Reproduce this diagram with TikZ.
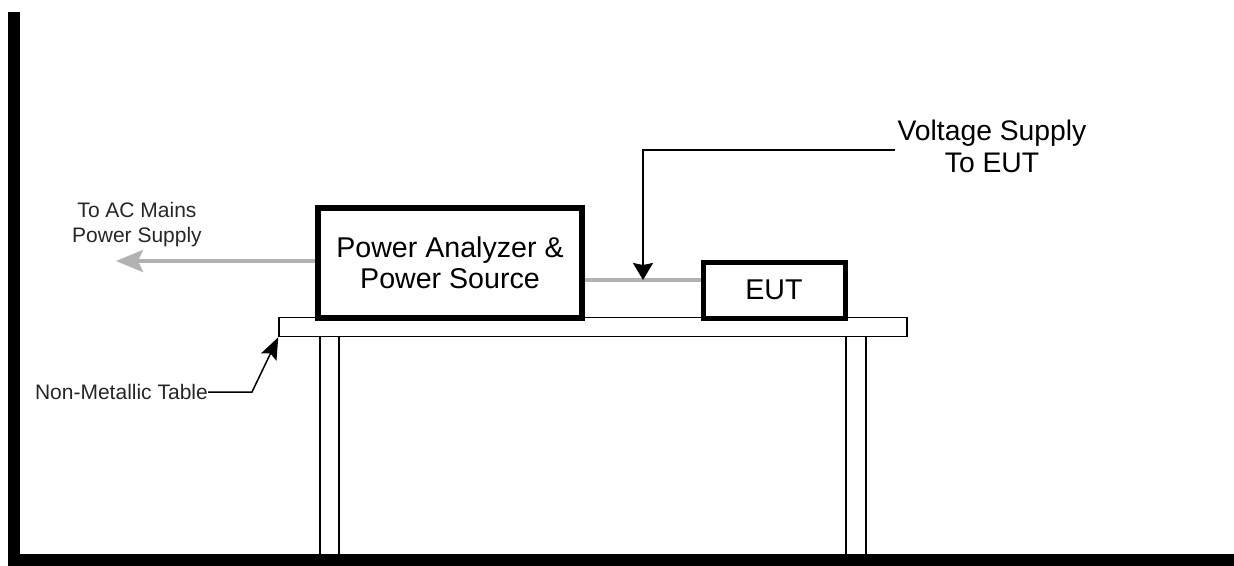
\documentclass[tikz,border=0pt]{standalone}
\usepackage{fontspec}
\setmainfont{Liberation Sans}
\usetikzlibrary{arrows.meta,positioning}
\tikzstyle{unit}=[
	rectangle,
	draw,
	line width=6pt,
	align=center,
	inner sep=0pt,
	font=\fontsize{28.6}{31}\selectfont
]
\tikzstyle{board}=[
	rectangle,
	draw,
	line width=1.5pt,
	inner sep=0pt
]
\tikzstyle{caption}=[
	align=center,
	inner sep=2pt,
	font=\fontsize{28.3}{32}\selectfont
]
\tikzstyle{note}=[
	align=center,
	inner sep=0pt,
	text=black!85,
	font=\fontsize{21}{25}\selectfont
]
\tikzstyle{cable}=[
	line width=4pt,
	draw=black!30
]
\tikzstyle{mainsfeed}=[
	line width=4pt,
	draw=black!30,
	-{Stealth[length=27pt,width=22pt,inset=5pt]}
]
\tikzstyle{pointer}=[
	line width=1.5pt,
	-{Stealth[length=17pt,width=20pt,inset=2pt]}
]
\tikzstyle{tablepointer}=[
	line width=1.5pt,
	-{Stealth[length=22pt,width=17pt,inset=4pt]}
]
\tikzstyle{wall}=[
	line width=12pt,
	line join=miter
]

\begin{document}
\begin{tikzpicture}[x=1pt,y=-1pt]
\useasboundingbox (0,0) rectangle (1234,565);
% walls
\draw[wall] (14,12) -- (14,560) -- (1240,560);
% table
\node [board, minimum width=628, minimum height=19] (top) at (593,327) {};
\foreach \x in {320,339,846,866}
	\draw [line width=1.5pt] (\x,337) -- (\x,555);
% equipment
\node [unit, minimum width=264, minimum height=110] (pwr) at (450,263) {Power Analyzer \&\\Power Source};
\node [unit, line width=5pt, minimum width=142, minimum height=56] (eut) at (774,290) {EUT};
\draw [cable] (pwr.east |- 0,280) -- (eut.west |- 0,280);
% labels
\node [note] (mains) at (137,225) {To AC Mains\\Power Supply};
\coordinate (mainsend) at (116,261);
\draw [mainsfeed] (pwr.west |- mainsend) -- (mainsend);
\node [caption] (volt) at (992,146) {Voltage Supply\\To EUT};
\coordinate (feed) at (643,280);
\draw [pointer] (volt.west |- 0,150) -| (feed);
\node [note, anchor=east] (tbl) at (208,392) {Non-Metallic Table};
\draw [tablepointer] (tbl.east) -- (252,392) -- (top.south west);
\end{tikzpicture}
\end{document}
